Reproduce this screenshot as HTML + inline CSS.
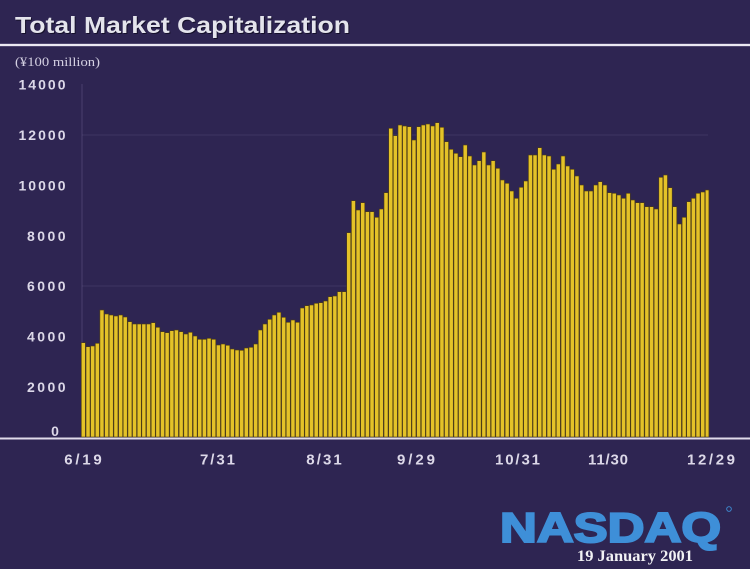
<!DOCTYPE html>
<html>
<head>
<meta charset="utf-8">
<style>
  html,body{margin:0;padding:0;background:#2e2552;}
  body{width:750px;height:569px;overflow:hidden;}
  svg{display:block;}
  .yl{font-family:"Liberation Sans",Arial,sans-serif;font-weight:bold;font-size:14px;fill:#dcd8e8;}
  .xl{font-family:"Liberation Sans",Arial,sans-serif;font-weight:bold;font-size:15px;fill:#dcd8e8;}
</style>
</head>
<body>
<svg width="750" height="569" viewBox="0 0 750 569" xmlns="http://www.w3.org/2000/svg">
  <rect x="0" y="0" width="750" height="569" fill="#2e2552"/>

  <text x="16" y="34" font-family="Liberation Sans, Arial, sans-serif" font-weight="bold" font-size="23.5" fill="#15102a" textLength="335" lengthAdjust="spacingAndGlyphs">Total Market Capitalization</text>
  <text x="15" y="33" font-family="Liberation Sans, Arial, sans-serif" font-weight="bold" font-size="23.5" fill="#e4e4ec" textLength="335" lengthAdjust="spacingAndGlyphs">Total Market Capitalization</text>
  <rect x="0" y="43.5" width="750" height="3" fill="#9a94b4" opacity="0.6"/>
  <rect x="0" y="44" width="750" height="2" fill="#ebe8f2"/>

  <text x="15" y="66" font-family="Liberation Serif, Times New Roman, serif" font-size="13" fill="#d4d0e2" textLength="85" lengthAdjust="spacingAndGlyphs">(¥100 million)</text>

  <line x1="82" y1="84" x2="82" y2="437" stroke="#8a80b0" stroke-width="1" opacity="0.3"/>
  <line x1="82" y1="135" x2="708" y2="135" stroke="#8a80b0" stroke-width="1" opacity="0.18"/>
  <line x1="82" y1="286" x2="708" y2="286" stroke="#8a80b0" stroke-width="1" opacity="0.18"/>

  <text class="yl" x="65.5" y="89.5" text-anchor="end" textLength="47" lengthAdjust="spacing">14000</text>
  <text class="yl" x="65.5" y="140" text-anchor="end" textLength="47" lengthAdjust="spacing">12000</text>
  <text class="yl" x="65.5" y="190.5" text-anchor="end" textLength="47" lengthAdjust="spacing">10000</text>
  <text class="yl" x="65.5" y="241" text-anchor="end" textLength="38.5" lengthAdjust="spacing">8000</text>
  <text class="yl" x="65.5" y="291" text-anchor="end" textLength="38.5" lengthAdjust="spacing">6000</text>
  <text class="yl" x="65.5" y="341.5" text-anchor="end" textLength="38.5" lengthAdjust="spacing">4000</text>
  <text class="yl" x="65.5" y="392" text-anchor="end" textLength="38.5" lengthAdjust="spacing">2000</text>
  <text class="yl" x="55" y="436" text-anchor="middle">0</text>

  <g transform="translate(0.3,437) scale(1,-1)" fill="#e4c228" stroke="#4d3d14" stroke-width="0.6">
    <rect x="81.0" y="0" width="4.06" height="94.3"/>
    <rect x="85.7" y="0" width="4.06" height="90.3"/>
    <rect x="90.3" y="0" width="4.06" height="91"/>
    <rect x="95.0" y="0" width="4.06" height="93.7"/>
    <rect x="99.6" y="0" width="4.06" height="127"/>
    <rect x="104.3" y="0" width="4.06" height="123"/>
    <rect x="108.9" y="0" width="4.06" height="122"/>
    <rect x="113.6" y="0" width="4.06" height="121"/>
    <rect x="118.3" y="0" width="4.06" height="122"/>
    <rect x="122.9" y="0" width="4.06" height="120"/>
    <rect x="127.6" y="0" width="4.06" height="115.3"/>
    <rect x="132.2" y="0" width="4.06" height="113"/>
    <rect x="136.9" y="0" width="4.06" height="113"/>
    <rect x="141.5" y="0" width="4.06" height="113"/>
    <rect x="146.2" y="0" width="4.06" height="113"/>
    <rect x="150.9" y="0" width="4.06" height="114.3"/>
    <rect x="155.5" y="0" width="4.06" height="109.7"/>
    <rect x="160.2" y="0" width="4.06" height="105.3"/>
    <rect x="164.8" y="0" width="4.06" height="104.3"/>
    <rect x="169.5" y="0" width="4.06" height="106.3"/>
    <rect x="174.1" y="0" width="4.06" height="107"/>
    <rect x="178.8" y="0" width="4.06" height="105.3"/>
    <rect x="183.5" y="0" width="4.06" height="103"/>
    <rect x="188.1" y="0" width="4.06" height="104.7"/>
    <rect x="192.8" y="0" width="4.06" height="101"/>
    <rect x="197.4" y="0" width="4.06" height="97.7"/>
    <rect x="202.1" y="0" width="4.06" height="97.7"/>
    <rect x="206.7" y="0" width="4.06" height="98.7"/>
    <rect x="211.4" y="0" width="4.06" height="97.7"/>
    <rect x="216.1" y="0" width="4.06" height="92"/>
    <rect x="220.7" y="0" width="4.06" height="93"/>
    <rect x="225.4" y="0" width="4.06" height="91.7"/>
    <rect x="230.0" y="0" width="4.06" height="88"/>
    <rect x="234.7" y="0" width="4.06" height="87"/>
    <rect x="239.3" y="0" width="4.06" height="86.7"/>
    <rect x="244.0" y="0" width="4.06" height="89"/>
    <rect x="248.7" y="0" width="4.06" height="89.7"/>
    <rect x="253.3" y="0" width="4.06" height="93"/>
    <rect x="258.0" y="0" width="4.06" height="107"/>
    <rect x="262.6" y="0" width="4.06" height="113"/>
    <rect x="267.3" y="0" width="4.06" height="117.7"/>
    <rect x="271.9" y="0" width="4.06" height="122"/>
    <rect x="276.6" y="0" width="4.06" height="124.7"/>
    <rect x="281.3" y="0" width="4.06" height="119.7"/>
    <rect x="285.9" y="0" width="4.06" height="114.7"/>
    <rect x="290.6" y="0" width="4.06" height="117"/>
    <rect x="295.2" y="0" width="4.06" height="114.7"/>
    <rect x="299.9" y="0" width="4.06" height="129"/>
    <rect x="304.5" y="0" width="4.06" height="131.3"/>
    <rect x="309.2" y="0" width="4.06" height="132"/>
    <rect x="313.9" y="0" width="4.06" height="133.7"/>
    <rect x="318.5" y="0" width="4.06" height="134.3"/>
    <rect x="323.2" y="0" width="4.06" height="136"/>
    <rect x="327.8" y="0" width="4.06" height="140.3"/>
    <rect x="332.5" y="0" width="4.06" height="141"/>
    <rect x="337.1" y="0" width="4.06" height="145.3"/>
    <rect x="341.8" y="0" width="4.06" height="145.3"/>
    <rect x="346.4" y="0" width="4.06" height="204.3"/>
    <rect x="351.1" y="0" width="4.06" height="236.3"/>
    <rect x="355.8" y="0" width="4.06" height="227"/>
    <rect x="360.4" y="0" width="4.06" height="234.3"/>
    <rect x="365.1" y="0" width="4.06" height="225.3"/>
    <rect x="369.7" y="0" width="4.06" height="225.3"/>
    <rect x="374.4" y="0" width="4.06" height="219.7"/>
    <rect x="379.0" y="0" width="4.06" height="228"/>
    <rect x="383.7" y="0" width="4.06" height="244.3"/>
    <rect x="388.4" y="0" width="4.06" height="308.7"/>
    <rect x="393.0" y="0" width="4.06" height="301.3"/>
    <rect x="397.7" y="0" width="4.06" height="312"/>
    <rect x="402.3" y="0" width="4.06" height="311"/>
    <rect x="407.0" y="0" width="4.06" height="310.3"/>
    <rect x="411.6" y="0" width="4.06" height="297"/>
    <rect x="416.3" y="0" width="4.06" height="310.3"/>
    <rect x="421.0" y="0" width="4.06" height="312"/>
    <rect x="425.6" y="0" width="4.06" height="313"/>
    <rect x="430.3" y="0" width="4.06" height="311"/>
    <rect x="434.9" y="0" width="4.06" height="314.3"/>
    <rect x="439.6" y="0" width="4.06" height="309.7"/>
    <rect x="444.2" y="0" width="4.06" height="295.3"/>
    <rect x="448.9" y="0" width="4.06" height="287.7"/>
    <rect x="453.6" y="0" width="4.06" height="283.7"/>
    <rect x="458.2" y="0" width="4.06" height="280.3"/>
    <rect x="462.9" y="0" width="4.06" height="292"/>
    <rect x="467.5" y="0" width="4.06" height="281"/>
    <rect x="472.2" y="0" width="4.06" height="272"/>
    <rect x="476.8" y="0" width="4.06" height="276.3"/>
    <rect x="481.5" y="0" width="4.06" height="285"/>
    <rect x="486.2" y="0" width="4.06" height="272"/>
    <rect x="490.8" y="0" width="4.06" height="276.3"/>
    <rect x="495.5" y="0" width="4.06" height="268.7"/>
    <rect x="500.1" y="0" width="4.06" height="257"/>
    <rect x="504.8" y="0" width="4.06" height="253.7"/>
    <rect x="509.4" y="0" width="4.06" height="246"/>
    <rect x="514.1" y="0" width="4.06" height="238.7"/>
    <rect x="518.8" y="0" width="4.06" height="249.7"/>
    <rect x="523.4" y="0" width="4.06" height="256"/>
    <rect x="528.1" y="0" width="4.06" height="282"/>
    <rect x="532.7" y="0" width="4.06" height="282"/>
    <rect x="537.4" y="0" width="4.06" height="289.3"/>
    <rect x="542.0" y="0" width="4.06" height="282"/>
    <rect x="546.7" y="0" width="4.06" height="281"/>
    <rect x="551.4" y="0" width="4.06" height="267.7"/>
    <rect x="556.0" y="0" width="4.06" height="273"/>
    <rect x="560.7" y="0" width="4.06" height="281"/>
    <rect x="565.3" y="0" width="4.06" height="271"/>
    <rect x="570.0" y="0" width="4.06" height="267.7"/>
    <rect x="574.6" y="0" width="4.06" height="261"/>
    <rect x="579.3" y="0" width="4.06" height="252"/>
    <rect x="584.0" y="0" width="4.06" height="246"/>
    <rect x="588.6" y="0" width="4.06" height="246"/>
    <rect x="593.3" y="0" width="4.06" height="252"/>
    <rect x="597.9" y="0" width="4.06" height="255.3"/>
    <rect x="602.6" y="0" width="4.06" height="252"/>
    <rect x="607.2" y="0" width="4.06" height="244.3"/>
    <rect x="611.9" y="0" width="4.06" height="243.7"/>
    <rect x="616.6" y="0" width="4.06" height="242"/>
    <rect x="621.2" y="0" width="4.06" height="238.7"/>
    <rect x="625.9" y="0" width="4.06" height="243.7"/>
    <rect x="630.5" y="0" width="4.06" height="237"/>
    <rect x="635.2" y="0" width="4.06" height="234.3"/>
    <rect x="639.8" y="0" width="4.06" height="234.3"/>
    <rect x="644.5" y="0" width="4.06" height="230.3"/>
    <rect x="649.2" y="0" width="4.06" height="230.3"/>
    <rect x="653.8" y="0" width="4.06" height="228"/>
    <rect x="658.5" y="0" width="4.06" height="259.7"/>
    <rect x="663.1" y="0" width="4.06" height="262"/>
    <rect x="667.8" y="0" width="4.06" height="249.3"/>
    <rect x="672.4" y="0" width="4.06" height="230.3"/>
    <rect x="677.1" y="0" width="4.06" height="213"/>
    <rect x="681.8" y="0" width="4.06" height="219.7"/>
    <rect x="686.4" y="0" width="4.06" height="235.3"/>
    <rect x="691.1" y="0" width="4.06" height="238.7"/>
    <rect x="695.7" y="0" width="4.06" height="243.7"/>
    <rect x="700.4" y="0" width="4.06" height="245"/>
    <rect x="705.0" y="0" width="3.6" height="247"/>
  </g>

  <rect x="0" y="437.5" width="750" height="2" fill="#e0dbea"/>

  <text class="xl" x="83" y="464.5" text-anchor="middle" textLength="37.5" lengthAdjust="spacing">6/19</text>
  <text class="xl" x="217.5" y="464.5" text-anchor="middle" textLength="35" lengthAdjust="spacing">7/31</text>
  <text class="xl" x="324" y="464.5" text-anchor="middle" textLength="35.5" lengthAdjust="spacing">8/31</text>
  <text class="xl" x="416" y="464.5" text-anchor="middle" textLength="38" lengthAdjust="spacing">9/29</text>
  <text class="xl" x="517.5" y="464.5" text-anchor="middle" textLength="45" lengthAdjust="spacing">10/31</text>
  <text class="xl" x="608" y="464.5" text-anchor="middle" textLength="40" lengthAdjust="spacing">11/30</text>
  <text class="xl" x="711" y="464.5" text-anchor="middle" textLength="48" lengthAdjust="spacing">12/29</text>

  <text x="500" y="542" font-family="Liberation Sans, Arial, sans-serif" font-weight="bold" font-size="42" fill="#3e8fd8" stroke="#3e8fd8" stroke-width="2" textLength="221" lengthAdjust="spacingAndGlyphs">NASDAQ</text>
  <circle cx="729" cy="509" r="2.3" fill="none" stroke="#3e8fd8" stroke-width="0.9"/>
  <text x="577" y="561" font-family="Liberation Serif, Times New Roman, serif" font-weight="bold" font-size="15.5" fill="#f2f2f4" textLength="116" lengthAdjust="spacingAndGlyphs">19 January 2001</text>
</svg>
</body>
</html>
